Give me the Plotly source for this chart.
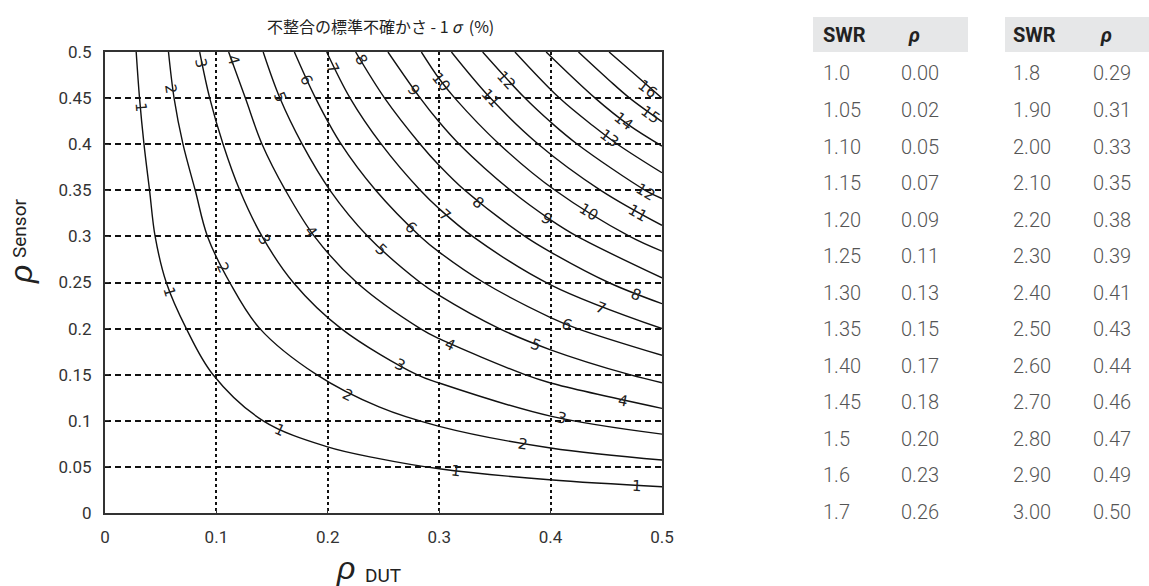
import math
import plotly.graph_objects as go

# ---------------- data ----------------
levels = [1, 2, 3, 4, 5, 6, 7, 8, 9, 10, 11, 12, 13, 14, 15, 16]

rho_dut_1 = [0.028, 0.031, 0.035, 0.040, 0.045, 0.055, 0.073, 0.097, 0.142, 0.199, 0.246, 0.300, 0.399, 0.500]
rho_sen_1 = [0.500, 0.450, 0.400, 0.350, 0.300, 0.250, 0.200, 0.150, 0.100, 0.072, 0.059, 0.048, 0.036, 0.0285]
rho_dut_2 = [0.057, 0.062, 0.070, 0.081, 0.092, 0.112, 0.139, 0.190, 0.246, 0.300, 0.400, 0.500]
rho_sen_2 = [0.500, 0.450, 0.400, 0.350, 0.300, 0.250, 0.200, 0.150, 0.115, 0.094, 0.0705, 0.0575]
rho_dut_3 = [0.085, 0.094, 0.106, 0.121, 0.141, 0.169, 0.212, 0.280, 0.300, 0.400, 0.500]
rho_sen_3 = [0.500, 0.450, 0.400, 0.350, 0.300, 0.250, 0.200, 0.150, 0.141, 0.105, 0.0855]
rho_dut_4 = [0.111, 0.126, 0.141, 0.162, 0.188, 0.226, 0.283, 0.300, 0.377, 0.400, 0.500]
rho_sen_4 = [0.500, 0.450, 0.400, 0.350, 0.300, 0.250, 0.200, 0.189, 0.150, 0.141, 0.1135]
rho_dut_5 = [0.142, 0.157, 0.177, 0.202, 0.236, 0.283, 0.300, 0.354, 0.400, 0.471, 0.500]
rho_sen_5 = [0.500, 0.450, 0.400, 0.350, 0.300, 0.250, 0.236, 0.200, 0.177, 0.150, 0.1413]
rho_dut_6 = [0.170, 0.189, 0.212, 0.243, 0.283, 0.300, 0.340, 0.400, 0.424, 0.500]
rho_sen_6 = [0.500, 0.450, 0.400, 0.350, 0.300, 0.283, 0.250, 0.212, 0.200, 0.171]
rho_dut_7 = [0.199, 0.220, 0.248, 0.283, 0.300, 0.330, 0.400, 0.500]
rho_sen_7 = [0.500, 0.450, 0.400, 0.350, 0.330, 0.300, 0.2475, 0.200]
rho_dut_8 = [0.225, 0.251, 0.283, 0.300, 0.323, 0.377, 0.400, 0.452, 0.500]
rho_sen_8 = [0.500, 0.450, 0.400, 0.377, 0.350, 0.300, 0.283, 0.250, 0.227]
rho_dut_9 = [0.254, 0.283, 0.300, 0.318, 0.364, 0.400, 0.424, 0.500]
rho_sen_9 = [0.500, 0.450, 0.424, 0.400, 0.350, 0.318, 0.300, 0.255]
rho_dut_10 = [0.284, 0.300, 0.314, 0.354, 0.404, 0.471, 0.500]
rho_sen_10 = [0.500, 0.471, 0.450, 0.400, 0.350, 0.300, 0.284]
rho_dut_11 = [0.311, 0.346, 0.389, 0.445, 0.500]
rho_sen_11 = [0.500, 0.450, 0.400, 0.350, 0.312]
rho_dut_12 = [0.339, 0.377, 0.400, 0.424, 0.485, 0.500]
rho_sen_12 = [0.500, 0.450, 0.424, 0.400, 0.350, 0.341]
rho_dut_13 = [0.368, 0.408, 0.438, 0.460, 0.500]
rho_sen_13 = [0.500, 0.450, 0.420, 0.400, 0.369]
rho_dut_14 = [0.396, 0.440, 0.470, 0.500]
rho_sen_14 = [0.500, 0.450, 0.421, 0.398]
rho_dut_15 = [0.425, 0.452, 0.471, 0.500]
rho_sen_15 = [0.500, 0.470, 0.450, 0.4245]
rho_dut_16 = [0.4525, 0.475, 0.500]
rho_sen_16 = [0.500, 0.4765, 0.450]

x_ticks = [0, 0.1, 0.2, 0.3, 0.4, 0.5]
x_tick_text = ["0", "0.1", "0.2", "0.3", "0.4", "0.5"]
y_ticks = [0, 0.05, 0.1, 0.15, 0.2, 0.25, 0.3, 0.35, 0.4, 0.45, 0.5]
y_tick_text = ["0", "0.05", "0.1", "0.15", "0.2", "0.25", "0.3", "0.35", "0.4", "0.45", "0.5"]

swr_left = ["1.0", "1.05", "1.10", "1.15", "1.20", "1.25", "1.30", "1.35", "1.40", "1.45", "1.5", "1.6", "1.7"]
rho_left = ["0.00", "0.02", "0.05", "0.07", "0.09", "0.11", "0.13", "0.15", "0.17", "0.18", "0.20", "0.23", "0.26"]
swr_right = ["1.8", "1.90", "2.00", "2.10", "2.20", "2.30", "2.40", "2.50", "2.60", "2.70", "2.80", "2.90", "3.00"]
rho_right = ["0.29", "0.31", "0.33", "0.35", "0.38", "0.39", "0.41", "0.43", "0.44", "0.46", "0.47", "0.49", "0.50"]

# ---------------- layout helpers (pixel geometry) ----------------
W, H = 1149, 586
PL, PR, PT, PB = 105, 662, 52, 513


def px(x):
    return (x - PL) / (PR - PL)


def py(y):
    return (PB - y) / (PB - PT)


curves_x = [rho_dut_1, rho_dut_2, rho_dut_3, rho_dut_4, rho_dut_5, rho_dut_6, rho_dut_7, rho_dut_8,
            rho_dut_9, rho_dut_10, rho_dut_11, rho_dut_12, rho_dut_13, rho_dut_14, rho_dut_15, rho_dut_16]
curves_y = [rho_sen_1, rho_sen_2, rho_sen_3, rho_sen_4, rho_sen_5, rho_sen_6, rho_sen_7, rho_sen_8,
            rho_sen_9, rho_sen_10, rho_sen_11, rho_sen_12, rho_sen_13, rho_sen_14, rho_sen_15, rho_sen_16]

fig = go.Figure()
for lv, cx, cy in zip(levels, curves_x, curves_y):
    fig.add_trace(go.Scatter(x=cx, y=cy, mode="lines", name=str(lv),
                             line=dict(color="#111111", width=1.4, shape="spline", smoothing=1.0),
                             showlegend=False, hoverinfo="skip"))

# contour labels (positions on curves)
label_pos = [
    (1, 0.032, 0.44), (1, 0.058, 0.24), (1, 0.157, 0.09), (1, 0.315, 0.046), (1, 0.478, 0.0298),
    (2, 0.059, 0.46), (2, 0.106, 0.266), (2, 0.218, 0.128), (2, 0.375, 0.075),
    (3, 0.086, 0.488), (3, 0.143, 0.296), (3, 0.265, 0.16), (3, 0.41, 0.103),
    (4, 0.115, 0.491), (4, 0.185, 0.305), (4, 0.31, 0.182), (4, 0.465, 0.121),
    (5, 0.157, 0.451), (5, 0.248, 0.285), (5, 0.387, 0.182),
    (6, 0.181, 0.47), (6, 0.275, 0.309), (6, 0.415, 0.204),
    (7, 0.205, 0.482), (7, 0.305, 0.323), (7, 0.445, 0.222),
    (8, 0.23, 0.491), (8, 0.335, 0.336), (8, 0.477, 0.236),
    (9, 0.277, 0.459), (9, 0.397, 0.319),
    (10, 0.302, 0.468), (10, 0.434, 0.326),
    (11, 0.346, 0.45), (11, 0.478, 0.325),
    (12, 0.36, 0.47), (12, 0.485, 0.348),
    (13, 0.4525, 0.407), (14, 0.465, 0.425), (15, 0.49, 0.432), (16, 0.487, 0.46),
]
aspect = (PB - PT) / (PR - PL)
annotations = []
for lv, lx, ly in label_pos:
    ang = math.degrees(math.atan(aspect * ly / lx))
    annotations.append(dict(x=lx, y=ly, xref="x", yref="y", text=str(lv), showarrow=False,
                            textangle=ang, font=dict(family="DejaVu Sans", size=15, color="#222222")))

# title
annotations.append(dict(x=px(380), y=py(26), xref="paper", yref="paper",
                        text="不整合の標準不確かさ - 1\u2009<i>σ</i>\u00a0\u00a0(%)", showarrow=False,
                        xanchor="center", yanchor="middle",
                        font=dict(family="Noto Sans CJK JP", size=16, color="#222222")))
# axis titles
annotations.append(dict(x=px(345), y=py(568), xref="paper", yref="paper", text="ρ", showarrow=False,
                        xanchor="center", yanchor="middle",
                        font=dict(family="Liberation Sans", size=32, color="#222222", style="italic")))
annotations.append(dict(x=px(363), y=py(575), xref="paper", yref="paper", text="DUT", showarrow=False,
                        xanchor="left", yanchor="middle",
                        font=dict(family="Roboto", size=19, color="#222222")))
annotations.append(dict(x=px(21), y=py(275), xref="paper", yref="paper", text="ρ", showarrow=False,
                        xanchor="center", yanchor="middle", textangle=-90,
                        font=dict(family="Liberation Sans", size=32, color="#222222", style="italic")))
annotations.append(dict(x=px(20), y=py(229), xref="paper", yref="paper", text="Sensor", showarrow=False,
                        xanchor="center", yanchor="middle", textangle=-90,
                        font=dict(family="Roboto", size=19, color="#222222")))

# table
shapes = [
    dict(type="rect", xref="paper", yref="paper", x0=px(813), x1=px(968), y0=py(52), y1=py(17),
         fillcolor="#e6e7e8", line=dict(width=0), layer="below"),
    dict(type="rect", xref="paper", yref="paper", x0=px(1005), x1=px(1160), y0=py(52), y1=py(17),
         fillcolor="#e6e7e8", line=dict(width=0), layer="below"),
]
col_x = [821, 899, 1011, 1091]
hdr_font = dict(family="Roboto", size=20, color="#222222", weight="bold")
for cx, txt in [(col_x[0], "SWR"), (col_x[1] + 7, "<i>ρ</i>"), (col_x[2], "SWR"), (col_x[3] + 7, "<i>ρ</i>")]:
    annotations.append(dict(x=px(cx), y=py(35), xref="paper", yref="paper", text=txt, showarrow=False,
                            xanchor="left", yanchor="middle", font=hdr_font))
val_font = dict(family="Roboto", size=20, color="#555555", weight=300)
row0, row_step = 73.5, 36.5
for i in range(len(swr_left)):
    yy = py(row0 + i * row_step)
    for cx, txt in [(col_x[0], swr_left[i]), (col_x[1], rho_left[i]),
                    (col_x[2], swr_right[i]), (col_x[3], rho_right[i])]:
        annotations.append(dict(x=px(cx), y=yy, xref="paper", yref="paper", text=txt, showarrow=False,
                                xanchor="left", yanchor="middle", font=val_font))

fig.update_layout(
    width=W, height=H, autosize=False,
    margin=dict(l=PL, r=W - PR, t=PT, b=H - PB, pad=0),
    paper_bgcolor="white", plot_bgcolor="white",
    showlegend=False,
    annotations=annotations,
    shapes=shapes,
    xaxis=dict(range=[0, 0.5], tickvals=x_ticks, ticktext=x_tick_text,
               showgrid=True, gridcolor="#111111", gridwidth=1.5, griddash="3px,3px",
               showline=True, linecolor="#333333", linewidth=2, mirror=True,
               ticks="inside", ticklen=4, tickcolor="#333333", zeroline=False,
               tickfont=dict(family="Roboto", size=17, color="#333333"), ticklabelstandoff=8),
    yaxis=dict(range=[0, 0.5], tickvals=y_ticks, ticktext=y_tick_text,
               showgrid=True, gridcolor="#111111", gridwidth=1.5, griddash="6px,4px",
               showline=True, linecolor="#333333", linewidth=2, mirror=True,
               ticks="inside", ticklen=4, tickcolor="#333333", zeroline=False,
               tickfont=dict(family="Roboto", size=17, color="#333333"), ticklabelstandoff=8),
)

fig.write_html("out.html", config={"displayModeBar": False},
               post_script="document.body.style.margin='0px';document.body.style.overflow='hidden';")
